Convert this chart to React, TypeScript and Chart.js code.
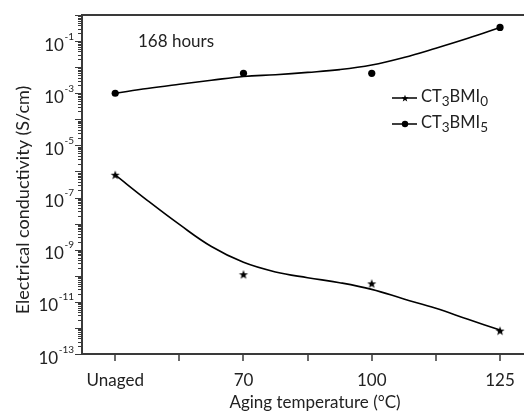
import React, { useEffect, useRef } from "react";
import { Chart, registerables } from "chart.js";

Chart.register(...registerables);

// ---- data ----
const categories = ["Unaged", "70", "100", "125"];
const categoryPositions = [0, 1, 2, 3];
const ct3bmi0 = [7.5e-7, 1.14e-10, 5.1e-11, 7.9e-13];
const ct3bmi5 = [1.0e-3, 5.8e-3, 5.8e-3, 0.335];
const fitPositions = [0, 0.25, 0.5, 0.75, 1, 1.25, 1.5, 1.75, 2, 2.25, 2.5, 2.75, 3];
const fitCt3bmi0 = [
  7.33e-7, 7.78e-8, 9.27e-9, 1.32e-9, 3.27e-10, 1.4e-10, 8.45e-11, 5.43e-11, 3.01e-11, 1.29e-11, 5.66e-12,
  2.14e-12, 8.36e-13,
];
const fitCt3bmi5 = [
  1.0e-3, 1.52e-3, 2.2e-3, 3.13e-3, 4.38e-3, 5.14e-3, 6.3e-3, 8.05e-3, 1.21e-2, 2.34e-2, 5.33e-2, 0.128, 0.332,
];
const yLabelExponents = [-13, -11, -9, -7, -5, -3, -1];
const yDecadeExponents = [-13, -12, -11, -10, -9, -8, -7, -6, -5, -4, -3, -2, -1, 0];
const xTickPositions = [0, 0.5, 1, 1.5, 2, 2.5, 3];

const FONT = "Lato, 'Open Sans', sans-serif";
const AXIS_COLOR = "#3a3a3a";

function makeStar(outer: number, inner: number): HTMLCanvasElement {
  const size = Math.ceil(outer * 2 + 2);
  const c = document.createElement("canvas");
  c.width = size;
  c.height = size;
  const ctx = c.getContext("2d")!;
  ctx.fillStyle = "#000";
  ctx.beginPath();
  for (let i = 0; i < 10; i++) {
    const r = i % 2 === 0 ? outer : inner;
    const a = -Math.PI / 2 + (i * Math.PI) / 5;
    const px = size / 2 + r * Math.cos(a);
    const py = size / 2 + 0.5 + r * Math.sin(a);
    if (i === 0) ctx.moveTo(px, py);
    else ctx.lineTo(px, py);
  }
  ctx.closePath();
  ctx.fill();
  return c;
}

function drawParts(
  ctx: CanvasRenderingContext2D,
  parts: { t: string; sub?: boolean }[],
  x: number,
  baseline: number,
  size: number,
  subSize: number,
  subDrop: number
) {
  let cx = x;
  ctx.textAlign = "left";
  ctx.textBaseline = "alphabetic";
  for (const p of parts) {
    ctx.font = `${p.sub ? subSize : size}px ${FONT}`;
    ctx.fillText(p.t, cx, baseline + (p.sub ? subDrop : 0));
    cx += ctx.measureText(p.t).width;
  }
}

const decorPlugin = {
  id: "decor",
  afterDraw(chart: any) {
    const ctx: CanvasRenderingContext2D = chart.ctx;
    const { left, right, top, bottom } = chart.chartArea;
    const xs = chart.scales.x;
    const ys = chart.scales.y;
    ctx.save();

    // frame
    ctx.strokeStyle = AXIS_COLOR;
    ctx.lineWidth = 2;
    ctx.beginPath();
    ctx.moveTo(left, top);
    ctx.lineTo(right, top);
    ctx.moveTo(left, top - 1);
    ctx.lineTo(left, bottom + 1);
    ctx.moveTo(left - 1, bottom);
    ctx.lineTo(right, bottom);
    ctx.stroke();

    // y ticks
    ctx.lineWidth = 1;
    ctx.beginPath();
    for (const e of yDecadeExponents) {
      const yp = Math.round(ys.getPixelForValue(Math.pow(10, e))) + 0.5;
      ctx.moveTo(left - 7, yp);
      ctx.lineTo(left, yp);
      if (e < 0) {
        for (let k = 2; k <= 9; k++) {
          const ym = Math.round(ys.getPixelForValue(k * Math.pow(10, e))) + 0.5;
          ctx.moveTo(left - 4, ym);
          ctx.lineTo(left, ym);
        }
      }
    }
    ctx.stroke();

    // x ticks
    ctx.lineWidth = 1.5;
    ctx.beginPath();
    for (const v of xTickPositions) {
      const xp = Math.round(xs.getPixelForValue(v));
      ctx.moveTo(xp, bottom);
      ctx.lineTo(xp, bottom + 7);
    }
    ctx.stroke();

    ctx.fillStyle = "#222";
    // y labels
    for (const e of yLabelExponents) {
      const yp = ys.getPixelForValue(Math.pow(10, e));
      const sup = "-" + String(-e);
      ctx.font = `10px ${FONT}`;
      const supW = ctx.measureText(sup).width;
      ctx.textAlign = "right";
      ctx.textBaseline = "alphabetic";
      const rightEdge = 74;
      ctx.fillText(sup, rightEdge, yp - 1.5);
      ctx.font = `17px ${FONT}`;
      ctx.fillText("10", rightEdge - supW - 0.5, yp + 9.5);
    }

    // x labels
    ctx.font = `17px ${FONT}`;
    ctx.textAlign = "center";
    ctx.textBaseline = "alphabetic";
    categories.forEach((c, i) => {
      ctx.fillText(c, xs.getPixelForValue(categoryPositions[i]), 386);
    });

    // x title
    ctx.font = `17px ${FONT}`;
    ctx.fillText("Aging temperature (°C)", 315, 407.5);

    // y title
    ctx.save();
    ctx.translate(29, 200);
    ctx.rotate(-Math.PI / 2);
    ctx.font = `18px ${FONT}`;
    ctx.textAlign = "center";
    ctx.textBaseline = "alphabetic";
    ctx.fillText("Electrical conductivity (S/cm)", 0, 0);
    ctx.restore();

    // annotation
    ctx.font = `17px ${FONT}`;
    ctx.textAlign = "left";
    ctx.fillText("168 hours", 138, 46.5);

    // legend
    const legendStar = makeStar(3.8, 1.6);
    ctx.strokeStyle = "#000";
    ctx.lineWidth = 1.5;
    ctx.beginPath();
    ctx.moveTo(392, 98);
    ctx.lineTo(417, 98);
    ctx.moveTo(392, 124);
    ctx.lineTo(417, 124);
    ctx.stroke();
    ctx.drawImage(legendStar, 405 - legendStar.width / 2, 98 - legendStar.height / 2);
    ctx.fillStyle = "#000";
    ctx.beginPath();
    ctx.arc(405, 124, 3.2, 0, Math.PI * 2);
    ctx.fill();
    ctx.fillStyle = "#222";
    drawParts(ctx, [{ t: "CT" }, { t: "3", sub: true }, { t: "BMI" }, { t: "0", sub: true }], 421, 102, 16.5, 13.5, 4);
    drawParts(ctx, [{ t: "CT" }, { t: "3", sub: true }, { t: "BMI" }, { t: "5", sub: true }], 421, 128, 16.5, 13.5, 4);

    ctx.restore();
  },
};

export default function App() {
  const canvasRef = useRef<HTMLCanvasElement | null>(null);

  useEffect(() => {
    if (!canvasRef.current) return;
    const star = makeStar(4.8, 2.0);
    const chart = new Chart(canvasRef.current, {
      type: "line",
      data: {
        datasets: [
          {
            label: "fit CT3BMI0",
            data: fitPositions.map((x, i) => ({ x, y: fitCt3bmi0[i] })),
            borderColor: "#000",
            borderWidth: 1.6,
            pointRadius: 0,
            tension: 0.4,
            fill: false,
          },
          {
            label: "fit CT3BMI5",
            data: fitPositions.map((x, i) => ({ x, y: fitCt3bmi5[i] })),
            borderColor: "#000",
            borderWidth: 1.6,
            pointRadius: 0,
            tension: 0.4,
            fill: false,
          },
          {
            label: "CT3BMI0",
            data: categoryPositions.map((x, i) => ({ x, y: ct3bmi0[i] })),
            showLine: false,
            pointStyle: star as any,
            pointRadius: 5,
            backgroundColor: "#000",
            borderColor: "#000",
          },
          {
            label: "CT3BMI5",
            data: categoryPositions.map((x, i) => ({ x, y: ct3bmi5[i] })),
            showLine: false,
            pointStyle: "circle",
            pointRadius: 3.6,
            pointBorderWidth: 0,
            backgroundColor: "#000",
            borderColor: "#000",
          },
        ],
      },
      options: {
        animation: false,
        responsive: false,
        layout: { padding: { top: 15, right: 0, left: 0, bottom: 0 } },
        scales: {
          x: {
            type: "linear",
            min: -0.259,
            max: 3.187,
            grid: { display: false },
            ticks: { display: false },
            border: { display: false },
            afterFit: (s: any) => {
              s.height = 64;
            },
          },
          y: {
            type: "logarithmic",
            min: 1e-13,
            max: 1,
            grid: { display: false },
            ticks: { display: false },
            border: { display: false },
            afterFit: (s: any) => {
              s.width = 82;
            },
          },
        },
        plugins: {
          legend: { display: false },
          tooltip: { enabled: false },
        },
      },
      plugins: [decorPlugin],
    });
    return () => chart.destroy();
  }, []);

  return (
    <div style={{ position: "absolute", left: 0, top: 0, width: 530, height: 418, background: "#fff" }}>
      <canvas ref={canvasRef} width={530} height={418} style={{ display: "block" }} />
    </div>
  );
}
